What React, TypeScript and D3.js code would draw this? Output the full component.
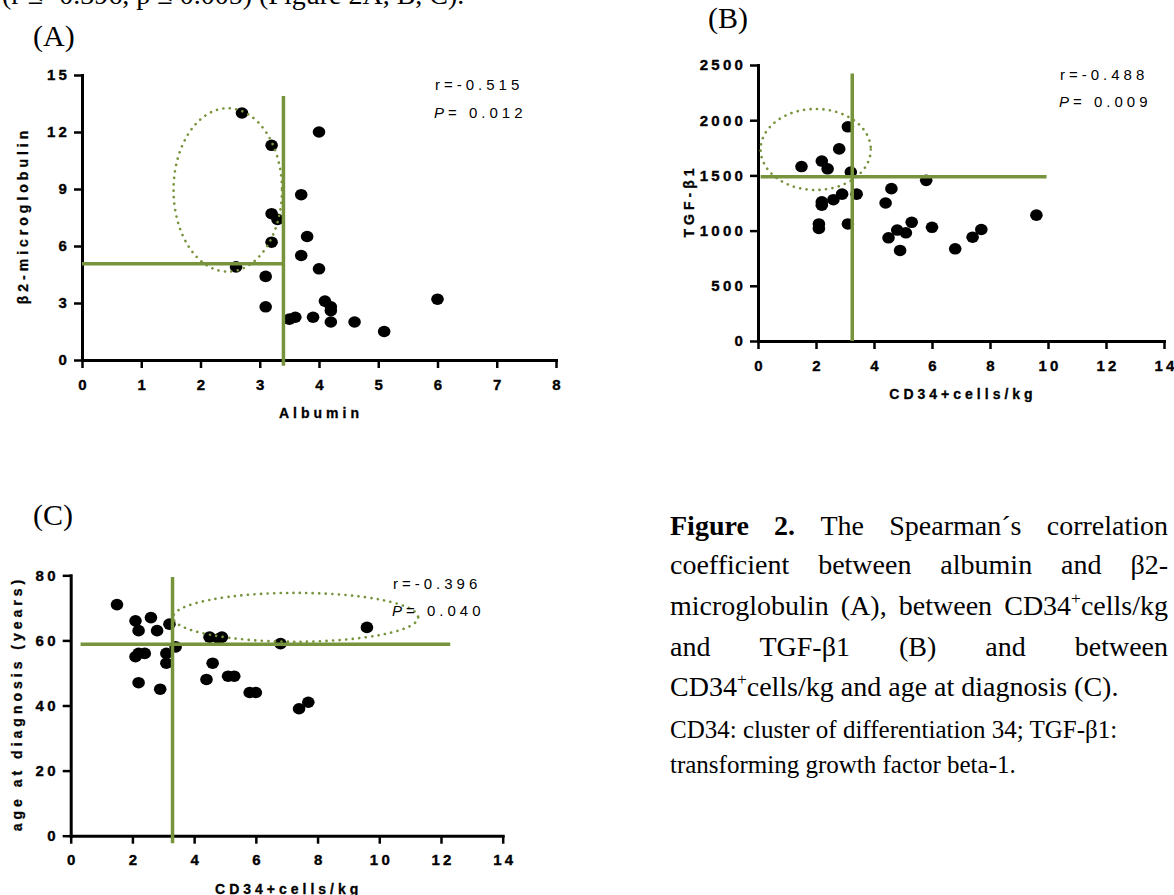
import React, { useEffect, useRef } from 'react';
import * as d3 from 'd3';

// Panel A: albumin vs beta2-microglobulin
const albumin = [2.7, 3.2, 4.0, 3.7, 3.2, 3.3, 3.8, 3.2, 3.7, 2.6, 4.0, 3.1, 3.1, 6.0, 4.1, 4.2, 4.2, 4.2, 3.5, 3.6, 3.9, 4.6, 5.1];
const b2mg = [13.0, 11.3, 12.0, 8.7, 7.7, 7.4, 6.5, 6.2, 5.5, 4.9, 4.8, 4.4, 2.8, 3.2, 3.1, 2.8, 2.6, 2.0, 2.15, 2.25, 2.25, 2.0, 1.5];

// Panel B: CD34+ cells/kg vs TGF-b1
const cd34B = [1.5, 2.2, 2.4, 2.8, 3.1, 3.2, 3.4, 2.9, 2.6, 2.2, 2.2, 2.1, 2.1, 3.1, 4.4, 4.6, 5.8, 4.5, 4.8, 4.9, 5.1, 5.3, 6.0, 6.8, 7.4, 7.7, 9.6];
const tgfB1 = [1580, 1630, 1560, 1740, 1940, 1530, 1330, 1330, 1280, 1260, 1230, 1060, 1020, 1060, 1250, 1380, 1455, 935, 1005, 820, 980, 1075, 1030, 835, 940, 1010, 1140];

// Panel C: CD34+ cells/kg vs age at diagnosis
const cd34C = [1.5, 2.1, 2.2, 2.6, 2.8, 3.2, 2.1, 2.2, 2.4, 3.1, 3.1, 3.4, 2.2, 2.9, 4.5, 4.8, 4.9, 4.6, 4.4, 5.1, 5.3, 5.8, 6.0, 6.8, 7.4, 7.7, 9.6];
const ageDx = [71, 66, 63, 67, 63, 65, 55, 56, 56, 56, 53, 58, 47, 45, 61, 60.5, 61, 53, 48, 49, 49, 44, 44, 59, 39, 41, 64];

const ticksAx = [0, 1, 2, 3, 4, 5, 6, 7, 8];
const ticksAy = [0, 3, 6, 9, 12, 15];
const ticksBCx = [0, 2, 4, 6, 8, 10, 12, 14];
const ticksBy = [0, 500, 1000, 1500, 2000, 2500];
const ticksCy = [0, 20, 40, 60, 80];

const rValues = ['r=-0.515', 'r=-0.488', 'r=-0.396'];
const pValues = ['0.012', '0.009', '0.040'];

// cut-off lines [x, y] and highlighted groups [cx, cy, rx, ry] in data units
const cutA = [3.4, 5.07];
const cutB = [3.25, 1487];
const cutC = [3.3, 58.8];
const ringA = [2.46, 8.95, 0.915, 4.3];
const ringB = [1.99, 1735, 1.9, 367];
const ringC = [7.29, 67.1, 3.97, 7.5];

const SANS = '"Liberation Sans", Arial, sans-serif';
const SERIF = '"Liberation Serif", "Times New Roman", serif';
const GREEN = '#77933c';

const panels = [
  {
    xs: albumin, ys: b2mg, xDomain: [0, 8], yDomain: [0, 15], xRange: [82, 556], yRange: [360, 75],
    xTicks: ticksAx, yTicks: ticksAy, cut: cutA, ring: ringA,
    vSpan: [13.9, -0.3], hSpan: [0, 3.4],
    xTitle: 'Albumin', yTitle: 'β2-microglobulin', yTitleX: 23,
    r: rValues[0], p: pValues[0], statX: 434, statY: [90, 118],
  },
  {
    xs: cd34B, ys: tgfB1, xDomain: [0, 14], yDomain: [0, 2500], xRange: [758, 1164], yRange: [341, 65],
    xTicks: ticksBCx, yTicks: ticksBy, cut: cutB, ring: ringB,
    vSpan: [2424, 0], hSpan: [0.09, 9.95],
    xTitle: 'CD34+cells/kg', yTitle: 'TGF-β1', yTitleX: 689,
    r: rValues[1], p: pValues[1], statX: 1059, statY: [80, 107],
  },
  {
    xs: cd34C, ys: ageDx, xDomain: [0, 14], yDomain: [0, 80], xRange: [70.7, 502.7], yRange: [835.7, 575.3],
    xTicks: ticksBCx, yTicks: ticksCy, cut: cutC, ring: ringC,
    vSpan: [79.5, -2.3], hSpan: [0.32, 12.3],
    xTitle: 'CD34+cells/kg', yTitle: 'age at diagnosis (years)', yTitleX: 17,
    r: rValues[2], p: pValues[2], statX: 392, statY: [589, 616],
  },
];

// caption text; "^x" marks a superscript character, "**" a bold word
const captionMain = [
  ['**Figure', '**2.', 'The', 'Spearman´s', 'correlation'],
  ['coefficient', 'between', 'albumin', 'and', 'β2-'],
  ['microglobulin', '(A),', 'between', 'CD34^+cells/kg'],
  ['and', 'TGF-β1', '(B)', 'and', 'between'],
];
const captionLast = 'CD34^+cells/kg and age at diagnosis (C).';
const captionNote = ['CD34: cluster of differentiation 34; TGF-β1:', 'transforming growth factor beta-1.'];

function drawPanel(svg, p) {
  const x = d3.scaleLinear().domain(p.xDomain).range(p.xRange);
  const y = d3.scaleLinear().domain(p.yDomain).range(p.yRange);
  const g = svg.append('g');

  const gx = g.append('g')
    .attr('transform', `translate(0,${p.yRange[0]})`)
    .call(d3.axisBottom(x).tickValues(p.xTicks).tickFormat(d3.format('d'))
      .tickSize(8).tickSizeOuter(0).tickPadding(11));
  const gy = g.append('g')
    .attr('transform', `translate(${p.xRange[0]},0)`)
    .call(d3.axisLeft(y).tickValues(p.yTicks).tickFormat(d3.format('d'))
      .tickSize(8).tickSizeOuter(0).tickPadding(4));
  [gx, gy].forEach(a => {
    a.select('.domain').attr('stroke', '#000').attr('stroke-width', 3).attr('stroke-linecap', 'square');
    a.selectAll('.tick line').attr('stroke', '#000').attr('stroke-width', 2.5);
    a.selectAll('.tick text')
      .attr('fill', '#000')
      .attr('stroke', '#000')
      .attr('stroke-width', 0.35)
      .style('font', `bold 15px ${SANS}`)
      .style('letter-spacing', '3.2px');
  });
  gx.selectAll('.tick text').attr('dx', 1.6);

  // points
  g.append('g')
    .selectAll('ellipse')
    .data(p.xs)
    .join('ellipse')
    .attr('cx', d => x(d))
    .attr('cy', (d, i) => y(p.ys[i]))
    .attr('rx', 6.3)
    .attr('ry', 5.8)
    .attr('fill', '#000');

  // cut-off lines
  g.append('line')
    .attr('x1', x(p.cut[0])).attr('x2', x(p.cut[0]))
    .attr('y1', y(p.vSpan[0])).attr('y2', y(p.vSpan[1]))
    .attr('stroke', GREEN).attr('stroke-width', 3.5);
  g.append('line')
    .attr('x1', x(p.hSpan[0])).attr('x2', x(p.hSpan[1]))
    .attr('y1', y(p.cut[1])).attr('y2', y(p.cut[1]))
    .attr('stroke', GREEN).attr('stroke-width', 3.5);

  // dotted ring around the highlighted group
  const [cx, cy, rx, ry] = p.ring;
  g.append('ellipse')
    .attr('cx', x(cx)).attr('cy', y(cy))
    .attr('rx', x(cx + rx) - x(cx)).attr('ry', y(cy) - y(cy + ry))
    .attr('fill', 'none')
    .attr('stroke', GREEN)
    .attr('stroke-width', 2.6)
    .attr('stroke-linecap', 'round')
    .attr('stroke-dasharray', '0.1 6.4');

  // axis titles
  const xMid = (p.xRange[0] + p.xRange[1]) / 2;
  g.append('text')
    .attr('x', xMid + 2).attr('y', p.yRange[0] + 58)
    .attr('text-anchor', 'middle')
    .attr('stroke', '#000').attr('stroke-width', 0.3)
    .style('font', `bold 14px ${SANS}`).style('letter-spacing', '4px')
    .text(p.xTitle);
  const yMid = (p.yRange[0] + p.yRange[1]) / 2;
  g.append('text')
    .attr('transform', `translate(${p.yTitleX},${yMid}) rotate(-90)`)
    .attr('text-anchor', 'middle').attr('dy', '0.35em').attr('dx', 2)
    .attr('stroke', '#000').attr('stroke-width', 0.3)
    .style('font', `bold 14px ${SANS}`).style('letter-spacing', '4px')
    .text(p.yTitle);

  // correlation stats
  g.append('text')
    .attr('x', p.statX + 1).attr('y', p.statY[0])
    .style('font', `15px ${SANS}`).style('letter-spacing', '4px')
    .text(p.r);
  const pt = g.append('text')
    .attr('x', p.statX).attr('y', p.statY[1])
    .style('font', `15px ${SANS}`).style('letter-spacing', '4px');
  pt.append('tspan').attr('font-style', 'italic').text('P');
  pt.append('tspan').text('= ' + p.p);
}

function richText(sel, str, size, x, y) {
  let bold = false;
  if (str.startsWith('**')) { bold = true; str = str.slice(2); }
  const t = sel.append('text')
    .attr('x', x).attr('y', y)
    .attr('fill', '#000')
    .style('font', `${bold ? 'bold ' : ''}${size}px ${SERIF}`);
  const shift = size * 0.4;
  let pending = 0;
  str.split(/(\^.)/).forEach(part => {
    if (!part) return;
    if (part.startsWith('^')) {
      t.append('tspan').attr('dy', -shift).style('font-size', `${size * 0.62}px`).text(part.slice(1));
      pending = shift;
    } else {
      const s = t.append('tspan').text(part);
      if (pending) { s.attr('dy', pending); pending = 0; }
    }
  });
  return t;
}

function drawCaption(svg) {
  const g = svg.append('g');
  const left = 670;
  const right = 1168;
  const base = [535, 574, 615, 656];
  captionMain.forEach((words, li) => {
    const texts = words.map(w => richText(g, w, 28, 0, base[li]));
    const widths = texts.map(t => t.node().getComputedTextLength());
    const total = d3.sum(widths);
    const gap = (right - left - total) / (words.length - 1);
    let cx = left;
    texts.forEach((t, i) => {
      t.attr('x', cx);
      cx += widths[i] + gap;
    });
  });
  richText(g, captionLast, 28, left, 696);
  richText(g, captionNote[0], 25, left, 738);
  richText(g, captionNote[1], 25, left, 773);

  // panel letters and the cut-off line of running text above
  richText(g, '(A)', 30, 33, 46);
  richText(g, '(B)', 30, 708, 28);
  richText(g, '(C)', 30, 33, 525);
  richText(g, '(r ≤ -0.396, p ≤ 0.005) (Figure 2A, B, C).', 28, 2, 4);
}

export default function App() {
  const svgRef = useRef(null);

  useEffect(() => {
    document.body.style.margin = '0';
    const svg = d3.select(svgRef.current);
    svg.selectAll('*').remove();
    panels.forEach(p => drawPanel(svg, p));
    drawCaption(svg);
  }, []);

  return <svg ref={svgRef} width={1174} height={895} style={{ display: 'block', background: '#fff' }} />;
}
